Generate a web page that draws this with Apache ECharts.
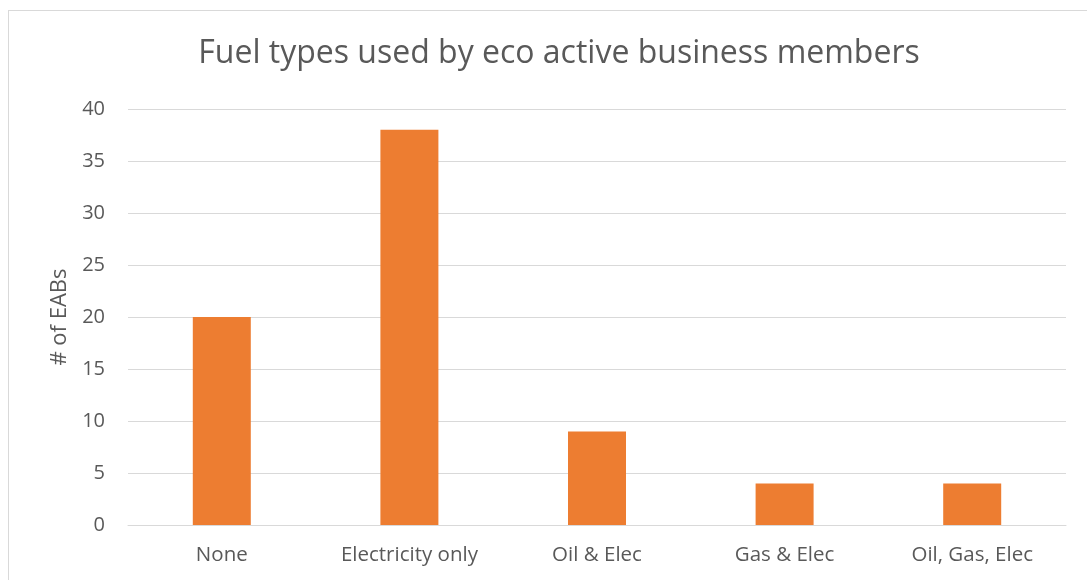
<!DOCTYPE html>
<html><head><meta charset="utf-8">
<script src="https://cdn.jsdelivr.net/npm/echarts@6/dist/echarts.min.js"></script>
<style>
html,body{margin:0;padding:0;background:#fff;width:1087px;height:580px;overflow:hidden;}
#frame{position:absolute;left:8px;top:10px;width:1100px;height:600px;border-left:1px solid #d9d9d9;border-top:1px solid #d9d9d9;box-sizing:border-box;}
#main{position:absolute;left:0;top:0;width:1087px;height:580px;}
</style></head>
<body><div id="frame"></div><div id="main"></div>
<script>
const chartTitle = 'Fuel types used by eco active business members';
const yAxisName = '# of EABs';
const categories = ['None', 'Electricity only', 'Oil & Elec', 'Gas & Elec', 'Oil, Gas, Elec'];
const values = [20, 38, 9, 4, 4];

const chart = echarts.init(document.getElementById('main'), null, {renderer:'canvas'});
const font = 'Open Sans';
chart.setOption({
  animation:false,
  title:{text:chartTitle,left:554,textAlign:'center',top:33,textStyle:{fontFamily:font,fontSize:32,fontWeight:'normal',color:'#595959'}},
  grid:{left:128,right:21,top:109,bottom:55,containLabel:false},
  xAxis:{type:'category',data:categories,axisLine:{lineStyle:{color:'#d9d9d9',width:1}},axisTick:{show:false},
    axisLabel:{fontFamily:font,fontSize:20.5,color:'#595959',margin:20}},
  yAxis:{type:'value',min:0,max:40,interval:5,name:yAxisName,nameLocation:'middle',nameGap:56,
    nameTextStyle:{fontFamily:font,fontSize:22,color:'#595959'},
    axisLine:{show:false},axisTick:{show:false},
    axisLabel:{fontFamily:font,fontSize:20,color:'#595959',margin:23},
    splitLine:{lineStyle:{color:'#d9d9d9',width:1}}},
  series:[{type:'bar',data:values,barWidth:58,itemStyle:{color:'#ED7D31'}}]
});
</script></body></html>
